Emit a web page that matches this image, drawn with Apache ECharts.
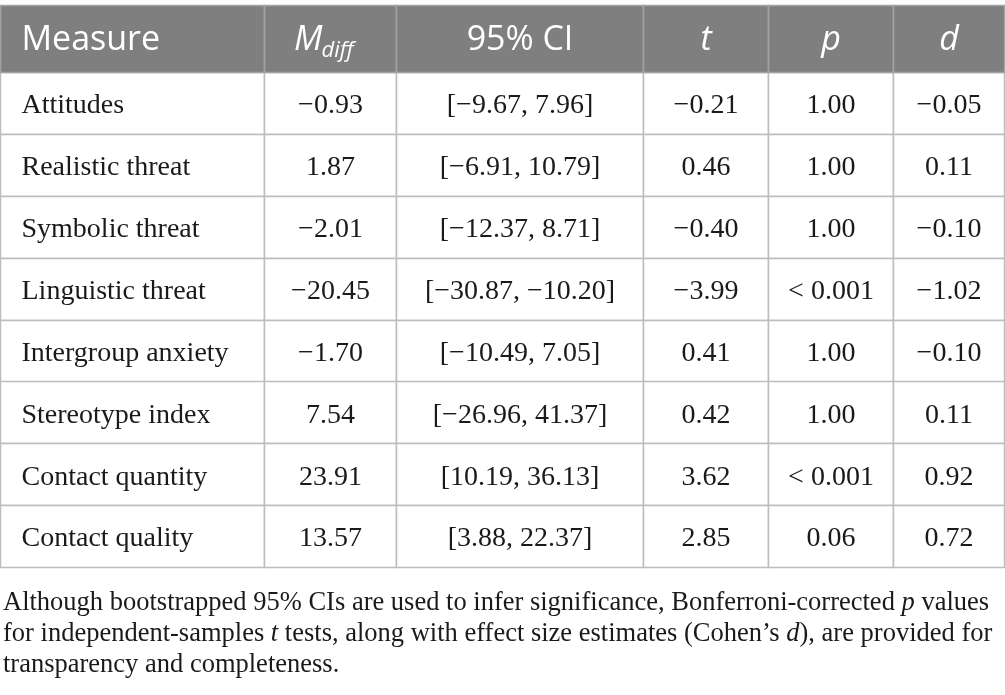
<!DOCTYPE html>
<html lang="en">
<head>
<meta charset="UTF-8">
<title>Group differences</title>
<script src="https://cdn.jsdelivr.net/npm/echarts@6/dist/echarts.min.js"></script>
<style>
  html, body { margin: 0; padding: 0; background: #fff; }
  #main { width: 1005px; height: 695px; }
</style>
</head>
<body>
<div id="main"></div>
<script type="text/javascript">
// table data
var measures = ['Attitudes', 'Realistic threat', 'Symbolic threat', 'Linguistic threat',
    'Intergroup anxiety', 'Stereotype index', 'Contact quantity', 'Contact quality'];
var mDiff = [-0.93, 1.87, -2.01, -20.45, -1.70, 7.54, 23.91, 13.57];
var ciLow = [-9.67, -6.91, -12.37, -30.87, -10.49, -26.96, 10.19, 3.88];
var ciHigh = [7.96, 10.79, 8.71, -10.20, 7.05, 41.37, 36.13, 22.37];
var tVals = [-0.21, 0.46, -0.40, -3.99, 0.41, 0.42, 3.62, 2.85];
var pVals = ['1.00', '1.00', '1.00', '< 0.001', '1.00', '1.00', '< 0.001', '0.06'];
var dVals = [-0.05, 0.11, -0.10, -1.02, -0.10, 0.11, 0.92, 0.72];
var headers = ['Measure', 'M', '95% CI', 't', 'p', 'd'];

// layout (column edges in x-axis units)
var colEdges = [0, 264, 396, 643, 768, 893, 1004];
var headH = 67;
var serif = '"Liberation Serif", "Times New Roman", serif';
var sans = '"Open Sans", "Noto Sans", sans-serif';

function fmt(v) {
    return v.toFixed(2).replace('-', '\u2212');
}

function rowCells(i) {
    return [measures[i], fmt(mDiff[i]), '[' + fmt(ciLow[i]) + ', ' + fmt(ciHigh[i]) + ']',
        fmt(tVals[i]), pVals[i], fmt(dVals[i])];
}

var myChart = echarts.init(document.getElementById('main'));

myChart.setOption({
    animation: false,
    grid: { left: 0, right: 1, top: 72, bottom: 128 },
    xAxis: { type: 'value', min: 0, max: 1004, show: false },
    yAxis: { type: 'category', data: measures, inverse: true, show: false },
    series: [{
        type: 'custom',
        clip: false,
        data: measures.map(function (m, i) { return [0, i]; }),
        encode: { x: 0, y: 1 },
        renderItem: function (params, api) {
            var i = params.dataIndex;
            var band = api.size([0, 1])[1];
            var yc = api.coord([0, i])[1];
            var top = Math.round(yc - band / 2) + 0.5;
            var h = Math.round(band);
            var cells = rowCells(i);
            var kids = [];
            for (var c = 0; c < 6; c++) {
                var x0 = Math.round(api.coord([colEdges[c], i])[0]) + 0.5;
                var x1 = Math.round(api.coord([colEdges[c + 1], i])[0]) + 0.5;
                kids.push({
                    type: 'rect',
                    shape: { x: x0, y: top, width: x1 - x0, height: h },
                    style: { fill: '#fff', stroke: '#bdbdbd', lineWidth: 1.5 }
                });
                kids.push({
                    type: 'text',
                    style: {
                        text: cells[c],
                        x: c === 0 ? x0 + 21 : (x0 + x1) / 2,
                        y: yc + 3,
                        align: c === 0 ? 'left' : 'center',
                        verticalAlign: 'middle',
                        font: '28px ' + serif,
                        fill: '#1a1a1a'
                    }
                });
                if (i === 0) {
                    var ht = top - headH;
                    kids.push({
                        type: 'rect',
                        shape: { x: x0, y: ht, width: x1 - x0, height: headH },
                        style: { fill: '#7f7f7f', stroke: '#a3a3a3', lineWidth: 1.5 }
                    });
                    var hx = c === 0 ? x0 + 21 : (x0 + x1) / 2;
                    var italic = c === 1 || c >= 3;
                    if (c === 1) {
                        kids.push({
                            type: 'text',
                            style: { text: 'M', x: hx - 8, y: ht + headH / 2 + 1, align: 'right', verticalAlign: 'middle',
                                font: 'italic 34px ' + sans, fill: '#fff' }
                        });
                        kids.push({
                            type: 'text',
                            style: { text: 'diff', x: hx - 9, y: ht + headH / 2 + 12, align: 'left', verticalAlign: 'middle',
                                font: 'italic 22px ' + sans, fill: '#fff' }
                        });
                    } else {
                        kids.push({
                            type: 'text',
                            style: {
                                text: headers[c], x: hx, y: ht + headH / 2 + 1,
                                align: c === 0 ? 'left' : 'center', verticalAlign: 'middle',
                                font: (italic ? 'italic ' : '') + '34px ' + sans, fill: '#fff'
                            }
                        });
                    }
                }
            }
            return { type: 'group', children: kids };
        }
    }],
    graphic: [{
        type: 'text',
        left: 3,
        top: 590,
        style: {
            text: '{n|Although bootstrapped 95% CIs are used to infer significance, Bonferroni-corrected }{i|p}{n| values}\n' +
                '{n|for independent-samples }{i|t}{n| tests, along with effect size estimates (Cohen\u2019s }{i|d}{n|), are provided for}\n' +
                '{n|transparency and completeness.}',
            rich: {
                n: { fontFamily: serif, fontSize: 26.5, fill: '#1a1a1a', lineHeight: 31 },
                i: { fontFamily: serif, fontSize: 26.5, fontStyle: 'italic', fill: '#1a1a1a', lineHeight: 31 }
            }
        }
    }]
});
</script>
</body>
</html>
